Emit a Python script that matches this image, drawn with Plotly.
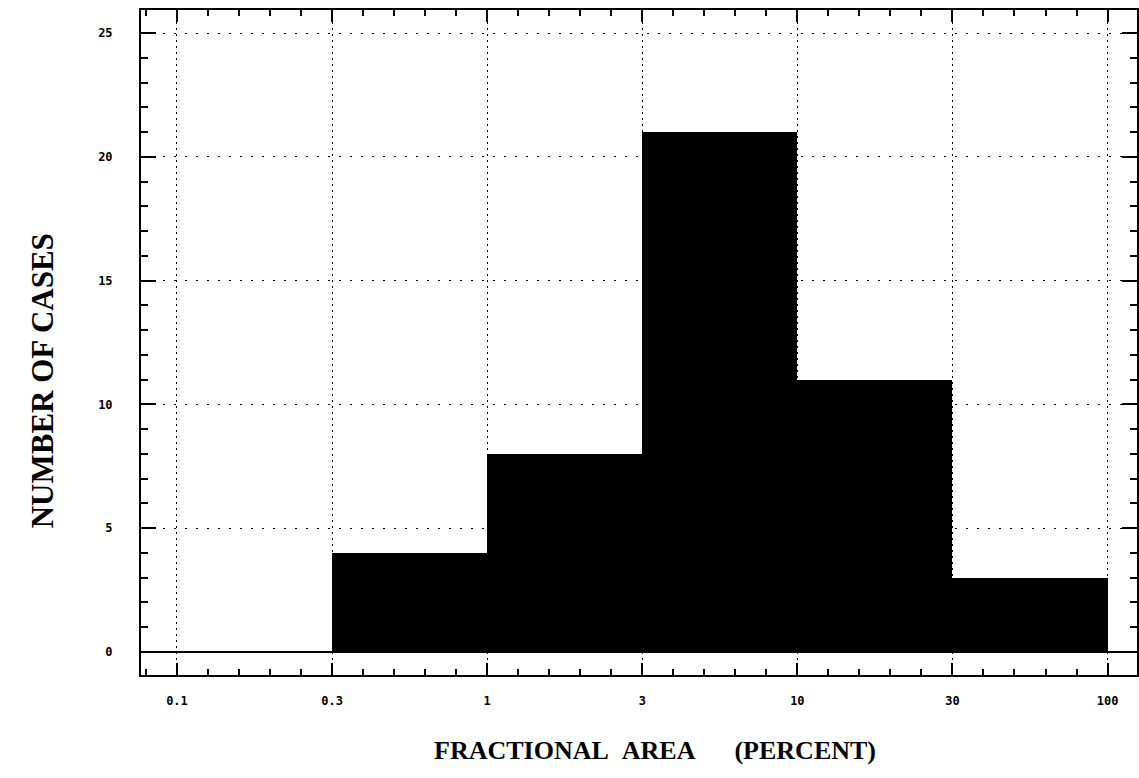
import plotly.graph_objects as go

# Histogram of fractional area, bins spaced evenly on the axis
bin_edges = ["0.1", "0.3", "1", "3", "10", "30", "100"]
counts = [0, 4, 8, 21, 11, 3]

y_ticks = [0, 5, 10, 15, 20, 25]

x_title = "FRACTIONAL&nbsp;&nbsp;AREA&nbsp;&nbsp;&nbsp;&nbsp;&nbsp;&nbsp;(PERCENT)"
y_title = "NUMBER OF CASES"

edge_pos = list(range(len(bin_edges)))
centers = [i + 0.5 for i in range(len(counts))]

fig = go.Figure()
fig.add_trace(go.Bar(
    x=centers,
    y=counts,
    width=[1.0] * len(counts),
    marker=dict(color="black", line=dict(width=0)),
    showlegend=False,
    hoverinfo="skip",
))

tick_font = dict(family="DejaVu Sans Mono", size=12, color="black", weight="bold")
x_title_font = dict(family="Liberation Serif", size=26, color="black", weight="bold")
y_title_font = dict(family="Liberation Serif", size=31, color="black", weight="bold")

fig.update_layout(
    width=1139,
    height=778,
    margin=dict(l=141, r=0, t=10, b=103),
    paper_bgcolor="white",
    plot_bgcolor="white",
    bargap=0,
    xaxis=dict(
        range=[-0.232, 6.19],
        tickmode="array",
        tickvals=edge_pos,
        ticktext=bin_edges,
        tickfont=tick_font,
        ticks="inside",
        ticklen=12,
        tickwidth=2,
        tickcolor="black",
        ticklabelstandoff=14,
        showline=True,
        linecolor="black",
        linewidth=2,
        mirror="allticks",
        showgrid=True,
        gridcolor="black",
        gridwidth=1.3,
        griddash="2px,4px",
        zeroline=False,
        minor=dict(dtick=0.2, tick0=0, ticks="inside", ticklen=6,
                   tickwidth=2, tickcolor="black", showgrid=False),
    ),
    yaxis=dict(
        range=[-0.93, 25.93],
        tickmode="array",
        tickvals=y_ticks,
        ticktext=[str(v) for v in y_ticks],
        tickfont=tick_font,
        ticks="inside",
        ticklen=15,
        tickwidth=2,
        tickcolor="black",
        ticklabelstandoff=24,
        showline=True,
        linecolor="black",
        linewidth=2,
        mirror="allticks",
        showgrid=True,
        gridcolor="black",
        gridwidth=1.3,
        griddash="2px,9px",
        zeroline=True,
        zerolinecolor="black",
        zerolinewidth=2,
        minor=dict(dtick=1, tick0=0, ticks="inside", ticklen=7,
                   tickwidth=2, tickcolor="black", showgrid=False),
    ),
    annotations=[
        dict(text=x_title, font=x_title_font, xref="paper", yref="paper",
             x=0.516, y=-0.1128, xanchor="center", yanchor="middle",
             showarrow=False),
        dict(text=y_title, font=y_title_font, xref="paper", yref="paper",
             x=-0.0992, y=0.442, xanchor="center", yanchor="middle",
             textangle=-90, showarrow=False),
    ],
)

fig.write_html("out.html")
